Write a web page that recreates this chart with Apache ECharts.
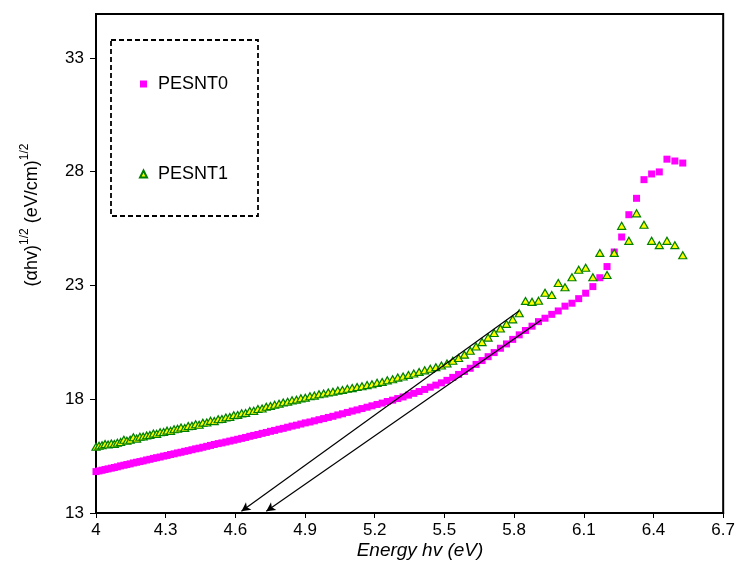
<!DOCTYPE html>
<html>
<head>
<meta charset="utf-8">
<script src="https://cdn.jsdelivr.net/npm/echarts@6/dist/echarts.min.js"></script>
<style>
html,body{margin:0;padding:0;background:#fff;}
#chart{width:738px;height:563px;}
</style>
</head>
<body>
<div id="chart"></div>
<script>
const energy = [4.000,4.013,4.026,4.039,4.052,4.066,4.079,4.092,4.106,4.120,4.133,4.147,4.161,4.175,4.189,4.203,4.218,4.232,4.247,4.261,4.276,4.291,4.306,4.321,4.336,4.351,4.366,4.382,4.397,4.413,4.429,4.444,4.460,4.477,4.493,4.509,4.526,4.542,4.559,4.576,4.593,4.610,4.627,4.644,4.662,4.679,4.697,4.715,4.733,4.751,4.769,4.788,4.806,4.825,4.844,4.863,4.882,4.901,4.921,4.940,4.960,4.980,5.000,5.020,5.041,5.061,5.082,5.103,5.124,5.145,5.167,5.188,5.210,5.232,5.254,5.277,5.299,5.322,5.345,5.368,5.391,5.415,5.439,5.463,5.487,5.511,5.536,5.561,5.586,5.611,5.636,5.662,5.688,5.714,5.741,5.767,5.794,5.822,5.849,5.877,5.905,5.933,5.962,5.990,6.019,6.049,6.078,6.108,6.139,6.169,6.200,6.231,6.263,6.294,6.327,6.359,6.392,6.425,6.458,6.492,6.526];

const pesnt0 = [14.82,14.85,14.88,14.91,14.94,14.97,15.00,15.03,15.07,15.10,15.13,15.16,15.20,15.23,15.26,15.29,15.33,15.36,15.40,15.43,15.46,15.50,15.53,15.57,15.60,15.64,15.67,15.71,15.74,15.78,15.82,15.85,15.89,15.93,15.97,16.01,16.05,16.08,16.12,16.16,16.20,16.24,16.28,16.32,16.37,16.41,16.45,16.50,16.54,16.59,16.63,16.68,16.72,16.77,16.82,16.86,16.91,16.96,17.00,17.05,17.10,17.15,17.20,17.25,17.31,17.36,17.42,17.48,17.53,17.59,17.65,17.71,17.77,17.83,17.90,17.96,18.03,18.10,18.18,18.26,18.34,18.43,18.53,18.62,18.72,18.83,18.96,19.09,19.22,19.36,19.53,19.70,19.87,20.05,20.24,20.43,20.63,20.83,21.02,21.21,21.41,21.56,21.73,21.88,22.09,22.22,22.42,22.66,22.95,23.34,23.83,24.47,25.13,26.11,26.83,27.65,27.90,27.99,28.55,28.47,28.38];

const pesnt1 = [15.91,15.96,15.98,16.03,16.01,16.05,16.03,16.09,16.12,16.22,16.18,16.22,16.33,16.27,16.35,16.36,16.41,16.43,16.49,16.48,16.55,16.56,16.62,16.61,16.68,16.70,16.76,16.74,16.82,16.83,16.90,16.88,16.97,16.98,17.05,17.04,17.12,17.13,17.20,17.22,17.30,17.31,17.38,17.40,17.48,17.49,17.57,17.59,17.67,17.70,17.76,17.80,17.86,17.89,17.95,17.98,18.04,18.07,18.13,18.16,18.22,18.25,18.30,18.33,18.38,18.41,18.46,18.49,18.54,18.57,18.62,18.66,18.72,18.76,18.83,18.88,18.95,19.00,19.07,19.13,19.20,19.27,19.34,19.41,19.48,19.57,19.69,19.81,19.96,20.13,20.32,20.51,20.71,20.91,21.11,21.31,21.51,21.78,22.32,22.28,22.33,22.68,22.58,23.11,22.92,23.36,23.69,23.78,23.36,24.43,23.46,24.43,25.62,24.96,26.17,25.67,24.96,24.77,24.96,24.77,24.33];

const xTicks = [4, 4.3, 4.6, 4.9, 5.2, 5.5, 5.8, 6.1, 6.4, 6.7];
const yTicks = [13, 18, 23, 28, 33];

// tangent (extrapolation) lines: [start, arrow end]
const tangent0 = [[5.917, 21.48], [4.733, 13.08]];
const tangent1 = [[5.821, 21.88], [4.626, 13.08]];

const seriesNames = ['PESNT0', 'PESNT1'];

const chart = echarts.init(document.getElementById('chart'), null, {renderer: 'canvas'});
const font = 'Liberation Sans, Arial, sans-serif';

function pairs(xs, ys) { return xs.map((x, i) => [x, ys[i]]); }

const option = {
  animation: false,
  backgroundColor: '#fff',
  grid: {left: 96, right: 13, top: 14, bottom: 50, show: true, borderColor: '#000', borderWidth: 2, backgroundColor: 'transparent'},
  legend: {
    orient: 'vertical', left: 134, top: 69,
    itemWidth: 7, itemHeight: 7, itemGap: 70,
    textStyle: {fontFamily: font, fontSize: 18, color: '#000', lineHeight: 20, padding: [0, 0, 0, 6]},
    data: [
      {name: seriesNames[0], icon: 'rect'},
      {name: seriesNames[1], icon: 'triangle'}
    ],
    selectedMode: false
  },
  xAxis: {
    type: 'value', min: 4, max: 6.7,
    axisLine: {show: true, onZero: false, lineStyle: {color: '#000', width: 2}},
    axisTick: {show: true, length: 5, lineStyle: {color: '#000', width: 1}, customValues: xTicks},
    axisLabel: {customValues: xTicks, fontFamily: font, fontSize: 17, color: '#000', margin: 9,
      formatter: v => String(Math.round(v * 10) / 10)},
    splitLine: {show: false}
  },
  yAxis: {
    type: 'value', min: 13, max: 34.93,
    axisLine: {show: true, onZero: false, lineStyle: {color: '#000', width: 2}},
    axisTick: {show: true, length: 6, lineStyle: {color: '#000', width: 1}, customValues: yTicks},
    axisLabel: {customValues: yTicks, fontFamily: font, fontSize: 17, color: '#000', margin: 12},
    splitLine: {show: false}
  },
  series: [
    {
      name: seriesNames[0], type: 'scatter', symbol: 'rect', symbolSize: 7,
      itemStyle: {color: '#FF00FF', opacity: 1},
      data: pairs(energy, pesnt0),
      markLine: {
        silent: true, symbol: ['none', 'arrow'], symbolSize: [7, 9],
        label: {show: false},
        lineStyle: {color: '#000', width: 1.2, type: 'solid'},
        data: [[{coord: tangent0[0]}, {coord: tangent0[1]}]]
      },
      z: 2
    },
    {
      name: seriesNames[1], type: 'scatter', symbol: 'triangle', symbolSize: [8, 7],
      itemStyle: {color: '#FFFF00', borderColor: '#008000', borderWidth: 1.2, opacity: 1},
      data: pairs(energy, pesnt1),
      markLine: {
        silent: true, symbol: ['none', 'arrow'], symbolSize: [7, 9],
        label: {show: false},
        lineStyle: {color: '#000', width: 1.2, type: 'solid'},
        data: [[{coord: tangent1[0]}, {coord: tangent1[1]}]]
      },
      z: 3
    }
  ],
  graphic: [
    {type: 'rect', shape: {x: 111, y: 40, width: 147, height: 176}, style: {fill: 'none', stroke: '#000', lineWidth: 1.8, lineDash: [5, 3]}, z: 10},
    {type: 'text', x: 420, y: 551, style: {text: 'Energy hv (eV)', font: 'italic 19px ' + font, fill: '#000', align: 'center', verticalAlign: 'middle'}},
    {type: 'text', x: 30, y: 215, rotation: Math.PI / 2,
      style: {
        text: '{m|(αhv)}{s|1/2}{m| (eV/cm)}{s|1/2}', align: 'center', verticalAlign: 'middle',
        rich: {
          m: {fontFamily: font, fontSize: 18, fill: '#000', color: '#000', lineHeight: 22, verticalAlign: 'bottom'},
          s: {fontFamily: font, fontSize: 12, fill: '#000', color: '#000', lineHeight: 12, verticalAlign: 'top'}
        }
      }
    }
  ]
};
chart.setOption(option);
</script>
</body>
</html>
